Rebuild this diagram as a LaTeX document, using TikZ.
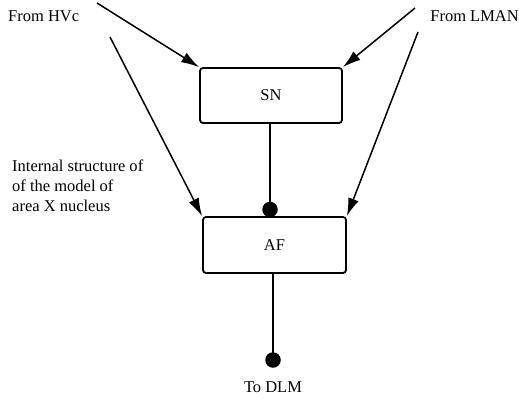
\documentclass[tikz,border=0pt]{standalone}
\usepackage{fontspec}
\setmainfont{Liberation Serif}
\usetikzlibrary{arrows.meta}
\begin{document}
\begin{tikzpicture}[x=1bp,y=-1bp,
  box/.style={draw,line width=1.8bp,rounded corners=3bp,minimum width=142bp,minimum height=55bp,inner sep=0pt,font=\fontsize{16.5bp}{20bp}\selectfont},
  lbl/.style={font=\fontsize{16.5bp}{20bp}\selectfont,inner sep=0pt},
  conn/.style={line width=1.5bp},
  arr/.style={conn,-{Latex[length=18bp,width=11bp]}},
  dot/.style={circle,fill=black,minimum size=15.5bp,inner sep=0pt}]
\useasboundingbox (0,0) rectangle (519,403);
\node[box] (sn) at (271,95.5) {SN};
\node[box,minimum width=143bp,minimum height=56bp] (af) at (274.5,245) {AF};
\node[dot] (d1) at (270,209.5) {};
\node[dot] (d2) at (273,360) {};
\coordinate (h1) at (97,3);
\coordinate (h2) at (110,37);
\coordinate (l1) at (415,8);
\coordinate (l2) at (418,32);
\node[lbl,anchor=west] (hvc) at (8,16) {From HVc};
\node[lbl,anchor=east] (lman) at (519,16) {From LMAN};
\node[lbl,anchor=north west,align=left] (txt) at (12,160) {Internal structure of\\of the model of\\area X nucleus};
\node[lbl] (dlm) at (273,387) {To DLM};
\draw[arr] (h1) -- (sn.north west);
\draw[arr] (h2) -- (af.north west);
\draw[arr] (l1) -- (sn.north east);
\draw[arr] (l2) -- (af.north east);
\draw[conn] (270,0 |- sn.south) -- (d1.center);
\draw[conn] (273,0 |- af.south) -- (d2.center);
\end{tikzpicture}
\end{document}
